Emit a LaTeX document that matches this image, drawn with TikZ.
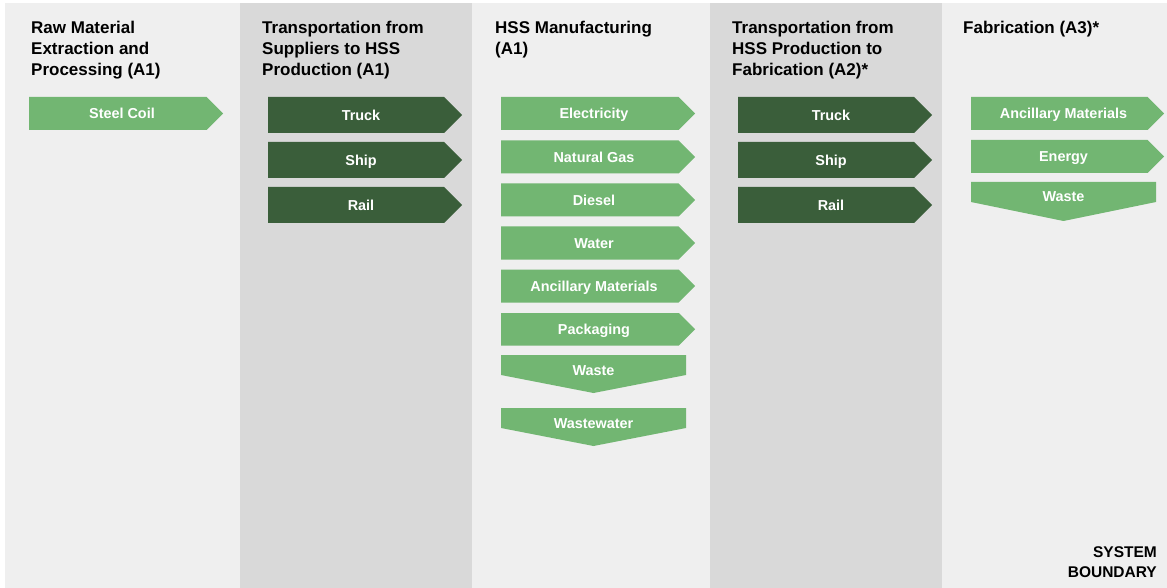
\documentclass[tikz,border=0pt]{standalone}
\usepackage{fontspec}
\setmainfont{Liberation Sans}
\definecolor{lightbg}{HTML}{EFEFEF}
\definecolor{darkbg}{HTML}{D9D9D9}
\definecolor{lgreen}{HTML}{72B672}
\definecolor{dgreen}{HTML}{3A5E3A}
\tikzset{
  lbl/.style={text=white,font=\bfseries\fontsize{14.4}{16}\selectfont,inner sep=0pt,anchor=base},
  title/.style={anchor=north west,align=left,inner sep=0pt,font=\bfseries\fontsize{17}{21}\selectfont},
  sysb/.style={anchor=north east,align=right,inner sep=0pt,font=\bfseries\fontsize{15.5}{20}\selectfont}
}
% right-pointing arrow: name, x0, y0, xtip, y1, fill, text
\newcommand\rarr[7]{%
  \fill[#6] (#2,#3) -- ({#4-(#5-#3)/2},#3) -- (#4,{(#3+#5)/2}) -- ({#4-(#5-#3)/2},#5) -- (#2,#5) -- cycle;
  \node[lbl] (#1) at ({(#2+#4)/2-4},{(#3+#5)/2+5.3}) {#7};}
% down-pointing arrow: name, x0, y0, x1, yrect, ytip, text
\newcommand\darr[7]{%
  \fill[lgreen] (#2,#3) -- (#4,#3) -- (#4,#5) -- ({(#2+#4)/2},#6) -- (#2,#5) -- cycle;
  \node[lbl] (#1) at ({(#2+#4)/2},{(#3+#5)/2+10}) {#7};}
\begin{document}
\begin{tikzpicture}[x=1pt,y=-1pt]
\useasboundingbox (0,0) rectangle (1167,588);
\fill[white] (0,0) rectangle (1167,588);
\fill[lightbg] (5,3) rectangle (240,588);
\fill[darkbg] (240,3) rectangle (472,588);
\fill[lightbg] (472,3) rectangle (710,588);
\fill[darkbg] (710,3) rectangle (942,588);
\fill[lightbg] (942,3) rectangle (1167,588);

\node[title] (t1) at (31,20.5) {Raw Material\\Extraction and\\Processing (A1)};
\node[title] (t2) at (262,20.5) {Transportation from\\Suppliers to HSS\\Production (A1)};
\node[title] (t3) at (495,20.5) {HSS Manufacturing\\(A1)};
\node[title] (t4) at (732,20.5) {Transportation from\\HSS Production to\\Fabrication (A2)*};
\node[title] (t5) at (963,20.5) {Fabrication (A3)*};

\rarr{steel}{29}{97}{223}{130}{lgreen}{Steel Coil}

\rarr{truckA}{268}{97}{462}{133}{dgreen}{Truck}
\rarr{shipA}{268}{142}{462}{178}{dgreen}{Ship}
\rarr{railA}{268}{187}{462}{223}{dgreen}{Rail}

\rarr{elec}{501}{97}{695}{130}{lgreen}{Electricity}
\rarr{gas}{501}{140.5}{695}{173.5}{lgreen}{Natural Gas}
\rarr{diesel}{501}{183.5}{695}{216.5}{lgreen}{Diesel}
\rarr{water}{501}{226.5}{695}{259.5}{lgreen}{Water}
\rarr{ancA}{501}{269.5}{695}{302.5}{lgreen}{Ancillary Materials}
\rarr{pack}{501}{313}{695}{345.5}{lgreen}{Packaging}
\darr{wasteA}{501}{355}{686}{375}{393}{Waste}
\darr{wwater}{501}{408}{686}{428}{446}{Wastewater}

\rarr{truckB}{738}{97}{932}{133}{dgreen}{Truck}
\rarr{shipB}{738}{142}{932}{178}{dgreen}{Ship}
\rarr{railB}{738}{187}{932}{223}{dgreen}{Rail}

\rarr{ancB}{971}{97}{1164}{130}{lgreen}{Ancillary Materials}
\rarr{energy}{971}{140}{1164}{173}{lgreen}{Energy}
\darr{wasteB}{971}{182}{1156}{202}{221}{Waste}

\node[sysb] (sb) at (1157,546) {SYSTEM\\BOUNDARY};
\end{tikzpicture}
\end{document}
